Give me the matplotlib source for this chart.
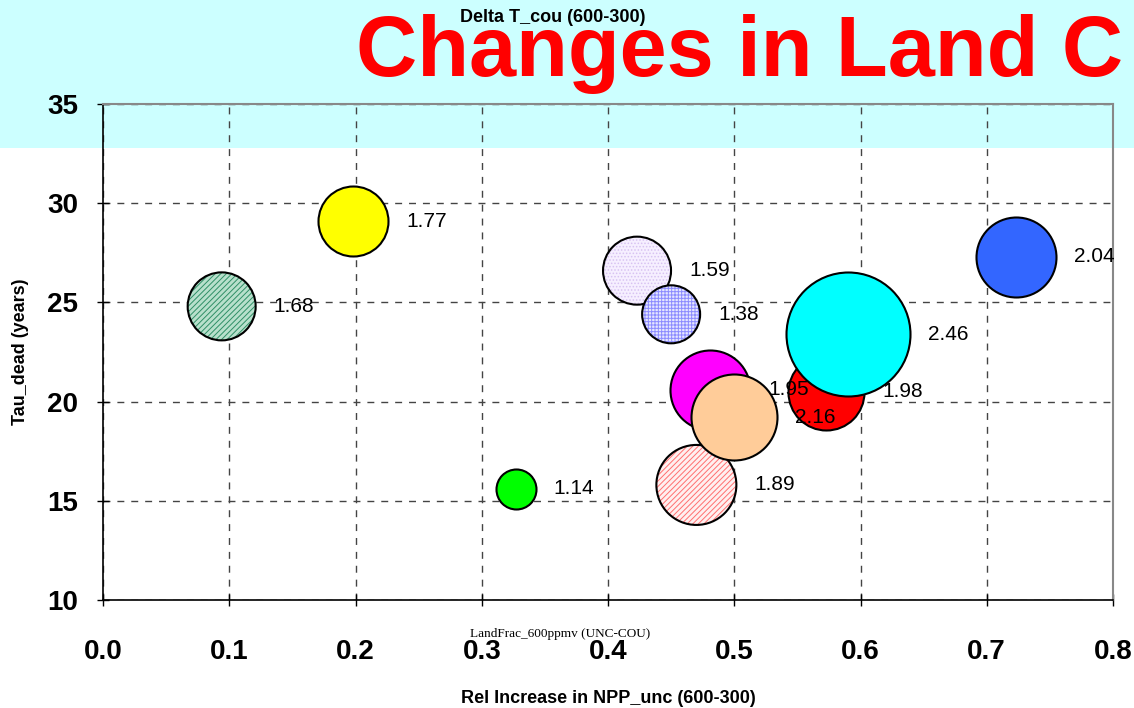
import matplotlib
matplotlib.use('Agg')
import matplotlib.pyplot as plt
from matplotlib.patches import Rectangle

plt.rcParams['font.family'] = ['Liberation Sans', 'DejaVu Sans']
plt.rcParams['hatch.linewidth'] = 0.7

# ── data ────────────────────────────────────────────────────────────────────
npp_increase = [0.094, 0.198, 0.327, 0.423, 0.450, 0.481, 0.470, 0.500, 0.573, 0.590, 0.723]
tau_dead     = [24.8, 29.1, 15.6, 26.6, 24.4, 20.6, 15.8, 19.2, 20.5, 23.4, 27.3]
delta_t      = ['1.68', '1.77', '1.14', '1.59', '1.38', '1.95', '1.89', '2.16', '1.98', '2.46', '2.04']
bubble_size  = [34, 35, 20, 34, 29, 40, 40, 43, 38, 62, 40]

x_ticks = [0.0, 0.1, 0.2, 0.3, 0.4, 0.5, 0.6, 0.7, 0.8]
y_ticks = [10, 15, 20, 25, 30, 35]

# face colour, hatch, hatch colour for each bubble
styles = [
    ('#b8e0cc', '//////', '#2f8f66'),
    ('#ffff00', None, None),
    ('#00ff00', None, None),
    ('#f6efff', '.....', '#d7c2f2'),
    ('#e6e6ff', '+++++', '#8c8cff'),
    ('#ff00ff', None, None),
    ('#fff0f0', '//////', '#ff7070'),
    ('#ffcc99', None, None),
    ('#ff0000', None, None),
    ('#00ffff', None, None),
    ('#3366ff', None, None),
]

fig = plt.figure(figsize=(11.34, 7.08), dpi=100)
fig.patch.set_facecolor('white')

# cyan slide band at the top (behind the axes)
band = Rectangle((0, 1 - 148 / 708), 1, 148 / 708, transform=fig.transFigure,
                 facecolor='#ccffff', edgecolor='none', zorder=-5)
fig.patches.append(band)

ax = fig.add_axes([103 / 1134, 108 / 708, 1010 / 1134, 496 / 708])
ax.set_zorder(2)
ax.set_facecolor('none')
ax.set_xlim(0, 0.8)
ax.set_ylim(10, 35)
ax.set_xticks(x_ticks)
ax.set_yticks(y_ticks)
ax.set_xticklabels([f'{v:.1f}' for v in x_ticks])
ax.grid(True, color='#444444', linestyle=(0, (5, 5)), linewidth=1)
ax.set_axisbelow(True)

for side in ('left', 'bottom'):
    ax.spines[side].set_color('black')
    ax.spines[side].set_linewidth(1.2)
for side in ('top', 'right'):
    ax.spines[side].set_color('#888888')
    ax.spines[side].set_linewidth(1.5)

ax.tick_params(axis='both', direction='inout', length=8, width=1, labelsize=20)
ax.tick_params(axis='x', pad=24)
ax.tick_params(axis='y', pad=14)
for lbl in ax.get_xticklabels() + ax.get_yticklabels():
    lbl.set_fontweight('bold')

# bubbles
for i, (x, y, r) in enumerate(zip(npp_increase, tau_dead, bubble_size)):
    fc, hatch, hc = styles[i]
    s = (2 * r * 0.72) ** 2
    z = 3 + i
    if hatch:
        ax.scatter([x], [y], s=s, facecolors=fc, edgecolors=hc, linewidths=0,
                   hatch=hatch, zorder=z, clip_on=False)
        ax.scatter([x], [y], s=s, facecolors='none', edgecolors='black',
                   linewidths=1.5, zorder=z, clip_on=False)
    else:
        ax.scatter([x], [y], s=s, facecolors=fc, edgecolors='black',
                   linewidths=1.5, zorder=z, clip_on=False)

# bubble labels to the right
for x, y, r, t in zip(npp_increase, tau_dead, bubble_size, delta_t):
    ax.annotate(t, (x, y), xytext=((r + 18) * 0.72, 0), textcoords='offset points',
                ha='left', va='center', fontsize=15, color='black', zorder=30)

ax.set_xlabel('Rel Increase in NPP_unc (600-300)', fontsize=13, fontweight='bold', labelpad=18)
ax.set_ylabel('Tau_dead (years)', fontsize=13, fontweight='bold', labelpad=13)

fig.text(560 / 1134, 1 - 634 / 708, 'LandFrac_600ppmv (UNC-COU)', ha='center', va='center',
         fontsize=9.5, family=['Liberation Serif', 'DejaVu Serif'])

# slide title and chart title
fig.text(356 / 1134, 1 - 76 / 708, 'Changes in Land C', ha='left', va='baseline',
         fontsize=61, fontweight='bold', color='#ff0000', zorder=5)
fig.text(553 / 1134, 1 - 17 / 708, 'Delta T_cou (600-300)', ha='center', va='center',
         fontsize=13, fontweight='bold', color='black', zorder=6)

fig.savefig('out.png', dpi=100)
